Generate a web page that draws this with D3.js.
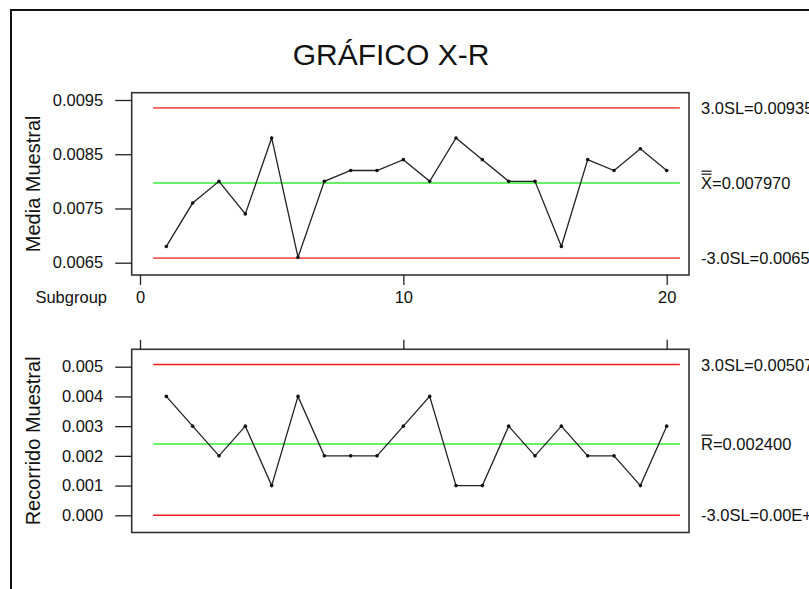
<!DOCTYPE html>
<html>
<head>
<meta charset="utf-8">
<script src="https://cdn.jsdelivr.net/npm/d3@7"></script>
<style>
  body { margin: 0; background: #fff; }
  svg { display: block; font-family: "Liberation Sans", Arial, sans-serif; }
</style>
</head>
<body>
<div id="chart"></div>
<script>
// --------------------------------------
// Data
// --------------------------------------

const subgroups = [1, 2, 3, 4, 5, 6, 7, 8, 9, 10, 11, 12, 13, 14, 15, 16, 17, 18, 19, 20];
const xbarValues = [0.0068, 0.0076, 0.0080, 0.0074, 0.0088, 0.0066, 0.0080, 0.0082, 0.0082, 0.0084,
                    0.0080, 0.0088, 0.0084, 0.0080, 0.0080, 0.0068, 0.0084, 0.0082, 0.0086, 0.0082];
const rangeValues = [0.004, 0.003, 0.002, 0.003, 0.001, 0.004, 0.002, 0.002, 0.002, 0.003,
                     0.004, 0.001, 0.001, 0.003, 0.002, 0.003, 0.002, 0.002, 0.001, 0.003];

// [UCL, center, LCL]
const xbarLimits = [0.009355, 0.007970, 0.006585];
const rangeLimits = [0.005074, 0.002400, 0];
const xbarLabels = ["3.0SL=0.009355", "=0.007970", "-3.0SL=0.006585"];
const rangeLabels = ["3.0SL=0.005074", "=0.002400", "-3.0SL=0.00E+00"];

const xbarTicks = [0.0065, 0.0075, 0.0085, 0.0095];
const rangeTicks = [0.000, 0.001, 0.002, 0.003, 0.004, 0.005];
const subgroupTicks = [0, 10, 20];

// --------------------------------------
// Canvas
// --------------------------------------

const width = 809, height = 589;
const fontSize = 16.5;

const svg = d3.select("#chart")
  .append("svg")
    .attr("width", width)
    .attr("height", height);

// outer border (runs off the right and bottom edge)
svg.append("rect")
  .attr("x", 11).attr("y", 10)
  .attr("width", 830).attr("height", 620)
  .attr("fill", "none")
  .attr("stroke", "#111")
  .attr("stroke-width", 2);

svg.append("text")
  .attr("x", 391).attr("y", 65)
  .attr("text-anchor", "middle")
  .attr("font-size", 30)
  .attr("fill", "#111")
  .text("GRÁFICO X-R");

// --------------------------------------
// Scales
// --------------------------------------

const frameLeft = 131.7, frameRight = 689;
const top1 = 92.7, bottom1 = 275;
const top2 = 349.3, bottom2 = 532.5;

const x = d3.scaleLinear([0, 20], [140, 666.7]);
const yTop = d3.scaleLinear([0.0065, 0.0095], [262.7, 100]);
const yBot = d3.scaleLinear([0, 0.005], [515.3, 366.7]);

const colors = ["#ff5a5a", "#33ee33", "#ff5a5a"];
const colorsBot = ["#ee1c1c", "#33ee33", "#ee1c1c"];

// --------------------------------------
// One panel
// --------------------------------------

function panel(y, values, limits, labels, ticks, fmt, lineColors, top, bottom, title, barCount) {
  const g = svg.append("g");

  // frame
  g.append("rect")
    .attr("x", frameLeft).attr("y", top)
    .attr("width", frameRight - frameLeft)
    .attr("height", bottom - top)
    .attr("fill", "none")
    .attr("stroke", "#333")
    .attr("stroke-width", 1.6);

  // y axis
  g.append("g")
    .attr("transform", `translate(${frameLeft},0)`)
    .call(d3.axisLeft(y).tickValues(ticks).tickFormat(d3.format(fmt)).tickSize(16.5).tickPadding(12))
    .call(a => a.select(".domain").remove())
    .call(a => a.selectAll("line").attr("stroke", "#222").attr("stroke-width", 1.3))
    .call(a => a.selectAll("text")
      .attr("font-size", fontSize)
      .attr("font-family", "Liberation Sans, Arial, sans-serif")
      .attr("fill", "#111"));

  // axis title
  g.append("text")
    .attr("transform", `translate(40,${(top + bottom) / 2}) rotate(-90)`)
    .attr("text-anchor", "middle")
    .attr("font-size", 20)
    .attr("fill", "#111")
    .text(title);

  // control limits
  g.selectAll(".limit")
    .data(limits)
    .join("line")
      .attr("class", "limit")
      .attr("x1", x(0.5)).attr("x2", x(20.5))
      .attr("y1", d => y(d)).attr("y2", d => y(d))
      .attr("stroke", (d, i) => lineColors[i])
      .attr("stroke-width", 1.6);

  // limit labels
  limits.forEach((d, i) => {
    const t = g.append("text")
      .attr("x", 701).attr("y", y(d) + 6)
      .attr("font-size", fontSize)
      .attr("fill", "#111");
    if (i === 1) {
      const sym = t.append("tspan").text(barCount === 2 ? "X" : "R");
      t.append("tspan").text(labels[i]);
      const w = sym.node().getComputedTextLength();
      for (let k = 0; k < barCount; k++) {
        g.append("line")
          .attr("x1", 701.5).attr("x2", 701 + w - 0.5)
          .attr("y1", y(d) - 8.8 - k * 3).attr("y2", y(d) - 8.8 - k * 3)
          .attr("stroke", "#111").attr("stroke-width", 1.2);
      }
    } else {
      t.text(labels[i]);
    }
  });

  // series line
  const line = d3.line()
    .x((d, i) => x(subgroups[i]))
    .y(d => y(d));

  g.append("path")
    .datum(values)
    .attr("d", line)
    .attr("fill", "none")
    .attr("stroke", "#222")
    .attr("stroke-width", 1.3);

  g.selectAll(".pt")
    .data(values)
    .join("circle")
      .attr("class", "pt")
      .attr("cx", (d, i) => x(subgroups[i]))
      .attr("cy", d => y(d))
      .attr("r", 1.8)
      .attr("fill", "#111");

  return g;
}

panel(yTop, xbarValues, xbarLimits, xbarLabels, xbarTicks, ".4f", colors, top1, bottom1, "Media Muestral", 2);
panel(yBot, rangeValues, rangeLimits, rangeLabels, rangeTicks, ".3f", colorsBot, top2, bottom2, "Recorrido Muestral", 1);

// --------------------------------------
// Subgroup axes
// --------------------------------------

svg.append("g")
  .attr("transform", `translate(0,${bottom1})`)
  .call(d3.axisBottom(x).tickValues(subgroupTicks).tickSize(10).tickPadding(6.5))
  .call(a => a.select(".domain").remove())
  .call(a => a.selectAll("line").attr("stroke", "#222").attr("stroke-width", 1.3))
  .call(a => a.selectAll("text")
    .attr("font-size", fontSize)
    .attr("font-family", "Liberation Sans, Arial, sans-serif")
    .attr("fill", "#111"));

svg.append("text")
  .attr("x", 107).attr("y", 303)
  .attr("text-anchor", "end")
  .attr("font-size", fontSize)
  .attr("fill", "#111")
  .text("Subgroup");

svg.append("g")
  .attr("transform", `translate(0,${top2})`)
  .call(d3.axisTop(x).tickValues(subgroupTicks).tickSize(9.5).tickFormat(""))
  .call(a => a.select(".domain").remove())
  .call(a => a.selectAll("line").attr("stroke", "#222").attr("stroke-width", 1.3));
</script>
</body>
</html>
